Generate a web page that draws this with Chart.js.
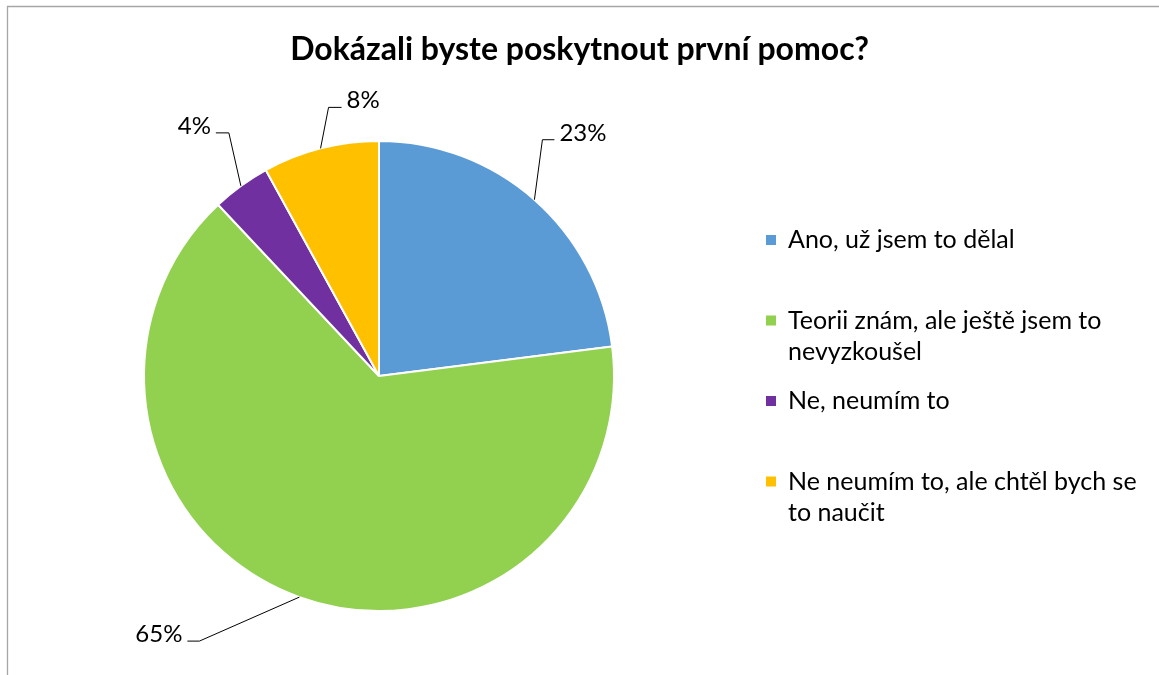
<!DOCTYPE html>
<html><head><meta charset="utf-8">
<script src="https://cdn.jsdelivr.net/npm/chart.js@4.4.0/dist/chart.umd.min.js"></script>
<style>html,body{margin:0;padding:0;background:#fff;overflow:hidden}canvas{display:block}</style>
</head><body>
<canvas id="c" width="1159" height="675"></canvas>
<script>
const chartTitle = "Dokázali byste poskytnout první pomoc?";
const categories = ["Ano, už jsem to dělal", "Teorii znám, ale ještě jsem to nevyzkoušel", "Ne, neumím to", "Ne neumím to, ale chtěl bych se to naučit"];
const values = [23, 65, 4, 8];
const colors = ["#5B9BD5", "#92D050", "#7030A0", "#FFC000"];

const FONT = "Lato, 'Liberation Sans', sans-serif";
// leader geometry (style): elbow offset from slice edge, horizontal segment length, side
const leaders = [
  {dx: 8, dy: -60, len: 12, side: 1},
  {dx: -100, dy: 44, len: 12, side: -1},
  {dx: -12, dy: -53, len: 13, side: -1},
  {dx: 8, dy: -41, len: 13, side: 1}
];

const framePlugin = {
  id: 'frame',
  beforeDraw(chart) {
    const ctx = chart.ctx;
    ctx.save();
    ctx.fillStyle = '#fff';
    ctx.fillRect(0, 0, chart.width, chart.height);
    ctx.strokeStyle = '#a6a6a6';
    ctx.lineWidth = 1.3;
    ctx.beginPath();
    ctx.moveTo(7.5, chart.height + 5);
    ctx.lineTo(7.5, 6.5);
    ctx.lineTo(chart.width + 5, 6.5);
    ctx.stroke();
    ctx.fillStyle = '#000';
    ctx.font = "bold 32px " + FONT;
    ctx.textAlign = 'center';
    ctx.textBaseline = 'middle';
    ctx.fillText(chartTitle, 579.5, 50);
    ctx.restore();
  }
};

function wrap(ctx, text, maxW) {
  const words = text.split(' ');
  const lines = [];
  let cur = '';
  for (const w of words) {
    const t = cur ? cur + ' ' + w : w;
    if (ctx.measureText(t).width > maxW && cur) { lines.push(cur); cur = w; }
    else cur = t;
  }
  if (cur) lines.push(cur);
  return lines;
}

const labelPlugin = {
  id: 'labels',
  afterDatasetsDraw(chart) {
    const ctx = chart.ctx;
    const ds = chart.data.datasets[0];
    const total = ds.data.reduce((a, b) => a + b, 0);
    const meta = chart.getDatasetMeta(0);
    ctx.save();
    ctx.font = "24px " + FONT;
    ctx.fillStyle = '#000';
    ctx.strokeStyle = '#000';
    ctx.lineWidth = 1;
    meta.data.forEach((arc, i) => {
      const p = arc.getProps(['x', 'y', 'startAngle', 'endAngle', 'outerRadius'], true);
      const mid = (p.startAngle + p.endAngle) / 2;
      const ax = p.x + Math.cos(mid) * p.outerRadius;
      const ay = p.y + Math.sin(mid) * p.outerRadius;
      const L = leaders[i];
      const ex = ax + L.dx, ey = ay + L.dy;
      const hx = ex + L.side * L.len;
      ctx.beginPath();
      ctx.moveTo(ax, ay);
      ctx.lineTo(ex, ey);
      ctx.lineTo(hx, ey);
      ctx.stroke();
      const txt = Math.round(ds.data[i] / total * 100) + '%';
      ctx.textAlign = L.side > 0 ? 'left' : 'right';
      ctx.textBaseline = 'alphabetic';
      ctx.fillText(txt, hx + L.side * 5, ey + 1);
    });
    // legend
    ctx.font = "25px " + FONT;
    ctx.textAlign = 'left';
    ctx.textBaseline = 'middle';
    chart.data.labels.forEach((lab, i) => {
      const y = 240 + i * 80.5;
      ctx.fillStyle = colors[i];
      ctx.fillRect(766, y - 5, 10, 10);
      ctx.fillStyle = '#000';
      wrap(ctx, lab, 360).forEach((ln, k) => ctx.fillText(ln, 788, y + k * 31));
    });
    ctx.restore();
  }
};

new Chart(document.getElementById('c'), {
  type: 'pie',
  data: {
    labels: categories,
    datasets: [{
      data: values,
      backgroundColor: colors,
      borderColor: '#fff',
      borderWidth: 2
    }]
  },
  options: {
    responsive: false,
    animation: false,
    layout: {padding: {left: 143, right: 544, top: 140, bottom: 63}},
    plugins: {legend: {display: false}, tooltip: {enabled: false}, title: {display: false}}
  },
  plugins: [framePlugin, labelPlugin]
});
</script>
</body></html>
